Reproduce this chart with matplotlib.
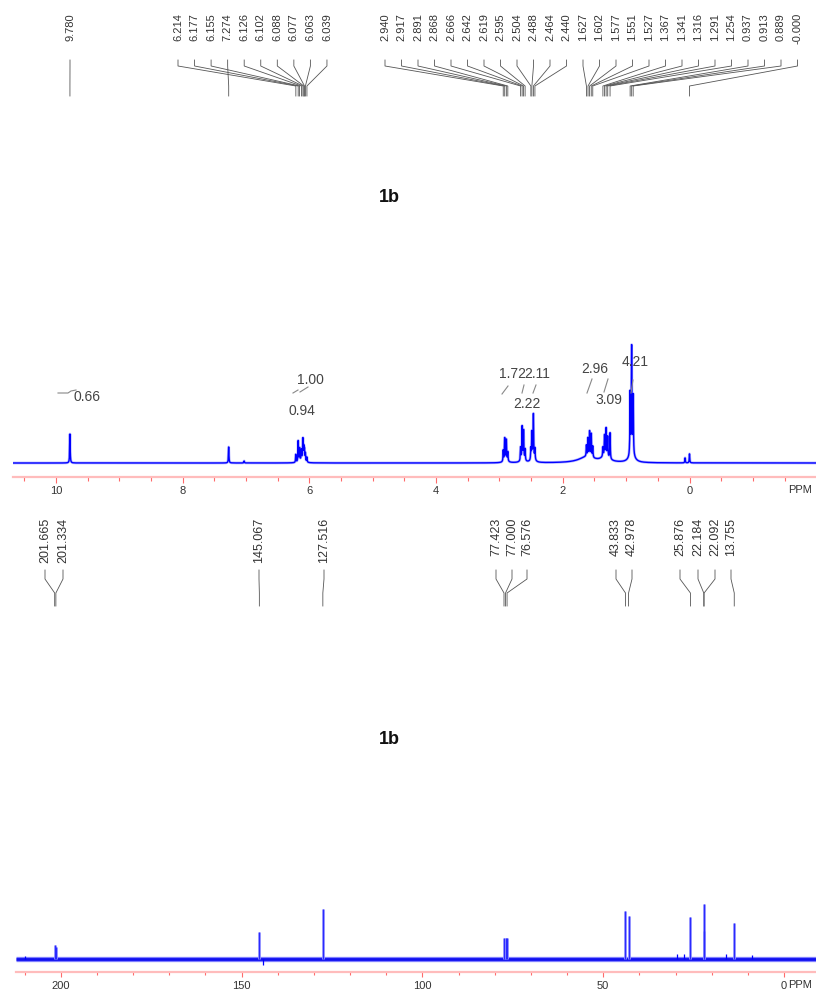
import matplotlib
matplotlib.use('Agg')
import numpy as np
import matplotlib.pyplot as plt
from matplotlib.ticker import MultipleLocator, FuncFormatter

plt.rcParams['font.family'] = ['Liberation Sans', 'DejaVu Sans']

# 1H peak picks, as printed above the spectrum (left to right)
h_labels = ['9.780', '6.214', '6.177', '6.155', '7.274', '6.126', '6.102', '6.088',
            '6.077', '6.063', '6.039', '2.940', '2.917', '2.891', '2.868', '2.666',
            '2.642', '2.619', '2.595', '2.504', '2.488', '2.464', '2.440', '1.627',
            '1.602', '1.577', '1.551', '1.527', '1.367', '1.341', '1.316', '1.291',
            '1.254', '0.937', '0.913', '0.889', '-0.000']
h_heights = [29, 8, 21, 13, 16, 10, 21, 13, 11, 8, 5,
             11, 22, 20, 9, 13, 32, 28, 11, 11, 26, 43, 11,
             11, 18, 25, 23, 11, 9, 20, 27, 20, 26,
             62, 106, 58, 9]
# small unlabelled lines and broad humps under the multiplets
h_extra_ppm = [7.03, 0.07]
h_extra_heights = [2, 5]
h_broad_ppm = [6.12, 2.90, 2.63, 2.47, 1.62, 1.33, 0.91]
h_broad_heights = [3, 3, 4, 5, 6, 6, 8]
h_broad_widths = [0.03, 0.03, 0.03, 0.03, 0.15, 0.07, 0.05]

h_integrals = ['0.66', '1.00', '0.94', '1.72', '2.11', '2.22', '2.96', '3.09', '4.21']

# 13C peak picks and heights
c_labels = ['201.665', '201.334', '145.067', '127.516', '77.423', '77.000', '76.576',
            '43.833', '42.978', '25.876', '22.184', '22.092', '13.755']
c_heights = [14, 12, 27, 50, 21, 21, 21, 48, 43, 42, 55, 28, 36]
c_spur_ppm = [210, 144, 29.6, 27.7, 16, 8.8]
c_spur_heights = [3, -6, 5, 5, 5, 4]

BLUE = '#0000ff'
NARROW = ['Liberation Sans Narrow', 'Liberation Sans', 'DejaVu Sans']


def px_h(px):
    return 10 - (px - 56) / 63.35


def px_c(px):
    return (784 - px) / 3.6165


def style_axis(ax, major, minor, tlen, pad):
    for s in ['top', 'left', 'right']:
        ax.spines[s].set_visible(False)
    ax.spines['bottom'].set_color('#ffbcbc')
    ax.spines['bottom'].set_linewidth(1.6)
    ax.set_yticks([])
    ax.xaxis.set_major_locator(MultipleLocator(major))
    ax.xaxis.set_minor_locator(MultipleLocator(minor))
    ax.xaxis.set_major_formatter(FuncFormatter(lambda v, p: '%d' % round(v)))
    ax.tick_params(axis='x', which='major', length=tlen[0], width=0.8, color='#ff6a6a',
                   labelsize=8, labelcolor='#333333', pad=pad)
    ax.tick_params(axis='x', which='minor', length=tlen[1], width=0.8, color='#ff6a6a')
    ax.patch.set_alpha(0)


fig = plt.figure(figsize=(8.16, 9.9), dpi=100)

# ---------------- 1H ----------------
ax1 = fig.add_axes([12.7 / 816, 1 - 477 / 990, (816 - 12.7) / 816, 477 / 990])
ax1.set_xlim(px_h(12.7), px_h(816))
ax1.set_ylim(-14, 463)
style_axis(ax1, 2, 0.5, (4.3, 2.9), 2.2)


def y1(py):
    return 463 - py


x = np.linspace(-2.0, 10.7, 40000)
y = np.zeros_like(x)
g = 0.0045
h_ppm = [float(s) for s in h_labels]
for p, h in zip(h_ppm + h_extra_ppm, h_heights + h_extra_heights):
    y += h * g ** 2 / ((x - p) ** 2 + g ** 2)
for p, h, w in zip(h_broad_ppm, h_broad_heights, h_broad_widths):
    y += h * w ** 2 / ((x - p) ** 2 + w ** 2)
ax1.plot(x, y, color='#8c8cff', lw=2.0, alpha=0.6)
ax1.plot(x, y, color=BLUE, lw=1.0)

slots = [70] + [178 + 16.55 * i for i in range(10)] + \
        [385 + 16.5 * i for i in range(12)] + [583 + 16.5 * i for i in range(14)]
for lab, sx, p in zip(h_labels, slots, h_ppm):
    ax1.text(px_h(sx), y1(13), lab, rotation=90, ha='center', va='top',
             fontsize=8, family=NARROW, color='#333333')
    ax1.plot([px_h(sx), px_h(sx), p, p], [y1(60), y1(66), y1(86), y1(96)],
             color='#555555', lw=0.6)

# integral values and their little marks
int_pos = [(87, 397), (310, 380), (302, 411), (512, 374), (537, 374),
           (527, 404), (595, 369), (609, 400), (635, 362)]
for val, (px, py) in zip(h_integrals, int_pos):
    ax1.text(px_h(px), y1(py), val, ha='center', va='center', fontsize=10, color='#444444')
int_marks = [[(58, 393), (68, 393), (71, 391), (76, 390)],
             [(293, 393), (298, 390)], [(300, 392), (308, 387)],
             [(502, 394), (508, 386)], [(522, 393), (524, 385)], [(533, 393), (536, 385)],
             [(587, 393), (592, 379)], [(604, 392), (608, 379)], [(631, 393), (633, 380)]]
for m in int_marks:
    ax1.plot([px_h(a) for a, b in m], [y1(b) for a, b in m], color='#888888', lw=0.8)

ax1.text(px_h(389), y1(198), '1b', ha='center', va='center', fontsize=13,
         fontweight='bold', color='#111111')
ax1.text(px_h(788), y1(490), 'PPM', ha='left', va='center', fontsize=8,
         color='#333333', clip_on=False)

# ---------------- 13C ----------------
ax2 = fig.add_axes([16 / 816, 1 - 972 / 990, 800 / 816, (972 - 500) / 990])
ax2.set_xlim(px_c(16), px_c(816))
ax2.set_ylim(-13, 459)
style_axis(ax2, 50, 10, (3.6, 2.4), 2.9)


def y2(py):
    return 959 - py


ax2.plot([px_c(16), px_c(816)], [0, 0], color='#8080ff', lw=3.8, solid_capstyle='butt')
ax2.plot([px_c(16), px_c(816)], [0, 0], color='#1010f0', lw=2.0, solid_capstyle='butt')
ax2.vlines(c_spur_ppm, 0, c_spur_heights, color=BLUE, lw=0.9)
c_ppm = [float(s) for s in c_labels]
ax2.vlines(c_ppm, 0, c_heights, color='#9a9aff', lw=2.0)
ax2.vlines(c_ppm, 0, c_heights, color='#2a2aff', lw=0.9)

c_slots = [45, 63, 259, 324, 496, 512, 527, 616, 632, 680, 698, 715, 731]
for lab, sx, p in zip(c_labels, c_slots, c_ppm):
    ax2.text(px_c(sx), y2(518), lab, rotation=90, ha='center', va='top',
             fontsize=9, color='#333333')
    ax2.plot([px_c(sx), px_c(sx), p, p], [y2(570), y2(579), y2(593), y2(606)],
             color='#555555', lw=0.6)

ax2.text(px_c(389), y2(740), '1b', ha='center', va='center', fontsize=13,
         fontweight='bold', color='#111111')
ax2.text(px_c(788), y2(985), 'PPM', ha='left', va='center', fontsize=8,
         color='#333333', clip_on=False)

fig.savefig('out.png', dpi=100)
